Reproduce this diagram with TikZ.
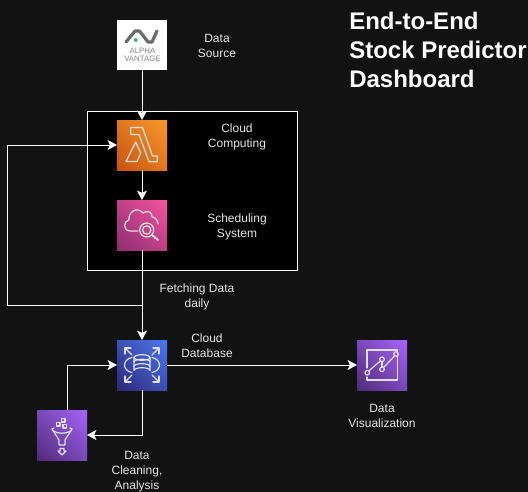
\documentclass[tikz,border=0pt]{standalone}
\usepackage{fontspec}
\setmainfont{Liberation Sans}
\usetikzlibrary{arrows.meta,shadings}
\definecolor{bgc}{HTML}{121212}
\definecolor{lab}{HTML}{E6E6E6}
\definecolor{logog}{HTML}{6A6A6A}
\definecolor{logot}{HTML}{858585}
\definecolor{logod}{HTML}{3FB97A}
\definecolor{oa}{HTML}{F7982E}\definecolor{ob}{HTML}{C85111}\definecolor{oc}{HTML}{E2781C}
\definecolor{pa}{HTML}{F5539E}\definecolor{pb}{HTML}{8B2D70}\definecolor{pc}{HTML}{C04187}
\definecolor{ba}{HTML}{4D77F0}\definecolor{bb}{HTML}{2E2778}\definecolor{bc}{HTML}{3C50B4}
\definecolor{va}{HTML}{A664FA}\definecolor{vb}{HTML}{502A78}\definecolor{vc}{HTML}{7A48B9}
\tikzset{
 lbl/.style={text=lab,font=\fontsize{9}{11.25}\selectfont,align=center,inner sep=0pt},
 ttl/.style={text=white,font=\bfseries\fontsize{18}{21.75}\selectfont,align=left,anchor=north west,inner sep=0pt},
 icon/.style={minimum size=37.5pt,inner sep=0pt,outer sep=0pt},
 iconorange/.style={icon,upper right=oa,lower left=ob,upper left=oc,lower right=oc},
 iconpink/.style={icon,upper right=pa,lower left=pb,upper left=pc,lower right=pc},
 iconblue/.style={icon,upper right=ba,lower left=bb,upper left=bc,lower right=bc},
 iconviolet/.style={icon,upper right=va,lower left=vb,upper left=vc,lower right=vc},
 conn/.style={draw=white,line width=0.75pt,-{Stealth[length=7pt,width=7.5pt,inset=1.6pt]}},
 gl/.style={draw=white!88!black,line width=0.9pt,line join=round,line cap=round},
}
\begin{document}
\begin{tikzpicture}[x=0.75pt,y=-0.75pt]
\useasboundingbox (0,0) rectangle (528,492);
\fill[bgc] (0,0) rectangle (528,492);
\node[draw=white,fill=black,line width=0.75pt,minimum width=157.5pt,minimum height=119.25pt,inner sep=0pt,outer sep=0pt] (box) at (192,190.5) {};

\node[fill=white,minimum size=37.5pt,inner sep=0pt,outer sep=0pt] (alpha) at (142,45) {};
\node[iconorange] (lambda) at (142,145) {};
\node[iconpink] (sched) at (142,225) {};
\node[iconblue] (db) at (142,365) {};
\node[iconviolet] (funnel) at (62,435) {};
\node[iconviolet] (viz) at (382,365) {};

% alpha vantage logo
\begin{scope}[shift={(117,20)}]
\draw[logog,line width=2.4pt,line cap=round,line join=round] (9,22) -- (18,11) -- (22.5,11) -- (31,22) -- (35,22) -- (40,11);
\fill[logod] (18.7,20) circle (2);
\node[text=logot,font=\fontsize{5.9}{5.5}\selectfont,align=center,inner sep=0pt] (alphatxt) at (25.5,34.7) {ALPHA\\VANTAGE};
\end{scope}

% lambda
\begin{scope}[shift={(117,120)},gl]
\draw (13.7,7.5) -- (25.5,7.5) -- (35.5,36) -- (40.3,36) -- (40.3,41.7) -- (32,41.7) -- (22,14.5) -- (13.7,14.5) -- cycle;
\draw (9,41.5) -- (18.7,22) -- (23.7,33) -- (20,41.5) -- cycle;
\end{scope}

% scheduling: cloud and magnifier
\begin{scope}[shift={(117,200)},gl]
\draw (21,31) -- (13,31) .. controls (6,31) and (6,21) .. (12,20)
  .. controls (11,12) and (20,6) .. (26,13) .. controls (30,10) and (36,12) .. (35,17)
  .. controls (38,17) and (41,20) .. (41,24);
\draw (29.7,30) circle (7);
\draw (29.7,30) circle (4.2);
\draw[line width=1.4pt] (35,35) -- (41,40);
\end{scope}

% db
\begin{scope}[shift={(117,340)},gl]
\draw (17,17.5) -- (17,30.5) arc[start angle=180,end angle=360,x radius=8,y radius=2.8] -- (33,17.5);
\draw (25,17.5) ellipse (8 and 2.8);
\draw (17,22) arc[start angle=180,end angle=360,x radius=8,y radius=2.8];
\draw (17,26.5) arc[start angle=180,end angle=360,x radius=8,y radius=2.8];
\draw (15,17.5) .. controls (5,19.5) and (5,30.5) .. (15,32.5);
\draw (35,17.5) .. controls (45,19.5) and (45,30.5) .. (35,32.5);
\foreach \a/\b/\c/\d in {8/8/15/15,42/8/35/15,8/42/15/35,42/42/35/35}{\draw (\a,\b) -- (\c,\d);}
\draw (8,14) -- (8,8) -- (14,8);
\draw (36,8) -- (42,8) -- (42,14);
\draw (8,36) -- (8,42) -- (14,42);
\draw (36,42) -- (42,42) -- (42,36);
\end{scope}

% funnel
\begin{scope}[shift={(37,410)},gl]
\draw (19.5,12.5) rectangle (23,16);
\draw (24.5,8.5) rectangle (28,12);
\draw (26,14.5) rectangle (29.5,18);
\draw (17,18) -- (15,19) -- (22,30) -- (22,35) -- (28,35) -- (28,30) -- (35,19) -- (33,18);
\draw (16,21) .. controls (22,24) and (28,24) .. (34,21);
\draw (21,41) -- (25,45) -- (29,41) -- (27,41) -- (27,38.5) -- (23,38.5) -- (23,41) -- cycle;
\end{scope}

% viz
\begin{scope}[shift={(357,340)},gl]
\draw (10,28) -- (10,10) -- (40.3,10) -- (40.3,40) -- (10,40) -- (10,37);
\draw (11.7,31) -- (23.4,21);
\draw (25,21.7) -- (25,27);
\draw (26.6,27.5) -- (37.5,16);
\draw (10.3,32.7) circle (2.3);
\draw (25,19.3) circle (2.3);
\draw (25,29.3) circle (2.3);
\draw (39,14) circle (2.3);
\end{scope}

\coordinate (branch) at (142,305);
\coordinate (leftlow) at (7,305);
\coordinate (lefthigh) at (7,145);
\coordinate (dbf) at (67,365);
\coordinate (dbdown) at (142,435);

\draw[conn] (alpha.south) -- (lambda.north);
\draw[conn] (lambda.south) -- (sched.north);
\draw[conn] (sched.south) -- (db.north);
\draw[conn] (branch) -- (leftlow) -- (lefthigh) -- (lambda.west);
\draw[conn] (db.south) -- (dbdown) -- (funnel.east);
\draw[conn] (funnel.north -| dbf) -- (dbf) -- (db.west);
\draw[conn] (db.east) -- (viz.west);

\node[lbl] (t1) at (217,46) {Data\\Source};
\node[lbl] (t2) at (237,137) {Cloud\\Computing};
\node[lbl] (t3) at (237,227) {Scheduling\\System};
\node[lbl] (t4) at (197,297) {Fetching Data\\daily};
\node[lbl] (t5) at (207,346) {Cloud\\Database};
\node[lbl] (t6) at (382,416) {Data\\Visualization};
\node[lbl] (t7) at (137,472) {Data\\Cleaning,\\Analysis};
\node[ttl] (title) at (349,12) {End-to-End\\Stock Predictor\\Dashboard};
\end{tikzpicture}
\end{document}
